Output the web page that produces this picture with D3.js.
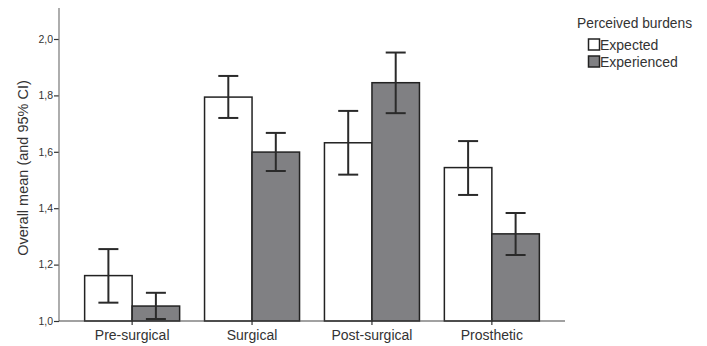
<!DOCTYPE html>
<html>
<head>
<meta charset="utf-8">
<script src="https://cdn.jsdelivr.net/npm/d3@7/dist/d3.min.js"></script>
<style>
  body { margin: 0; background: #fff; }
  svg { display: block; font-family: "Liberation Sans", Arial, sans-serif; }
</style>
</head>
<body>
<svg id="chart" width="707" height="346"></svg>
<script>
const categories = ["Pre-surgical", "Surgical", "Post-surgical", "Prosthetic"];
const seriesNames = ["Expected", "Experienced"];
const expectedMean = [1.161, 1.794, 1.632, 1.544];
const expectedLow  = [1.065, 1.720, 1.519, 1.447];
const expectedHigh = [1.255, 1.869, 1.745, 1.638];
const experiencedMean = [1.053, 1.599, 1.845, 1.309];
const experiencedLow  = [1.007, 1.532, 1.737, 1.234];
const experiencedHigh = [1.100, 1.667, 1.952, 1.383];
const yTicks = [1.0, 1.2, 1.4, 1.6, 1.8, 2.0];
const yTickLabels = ["1,0", "1,2", "1,4", "1,6", "1,8", "2,0"];

const fills = ["#ffffff", "#808083"];
const svg = d3.select("#chart");

const x0 = d3.scaleBand().domain(categories).range([59, 565]).paddingInner(0).paddingOuter(0.11);
const x1 = d3.scaleBand().domain(seriesNames).range([0, 95]);
const y = d3.scaleLinear().domain([1.0, 2.0]).range([321, 39]);

const data = [];
categories.forEach((c, i) => {
  data.push({cat: c, s: "Expected", m: expectedMean[i], lo: expectedLow[i], hi: expectedHigh[i]});
  data.push({cat: c, s: "Experienced", m: experiencedMean[i], lo: experiencedLow[i], hi: experiencedHigh[i]});
});

const barX = d => x0(d.cat) + (x0.bandwidth() - 95) / 2 + x1(d.s);

// bars
svg.append("g").selectAll("rect").data(data).join("rect")
  .attr("x", d => barX(d))
  .attr("y", d => y(d.m))
  .attr("width", x1.bandwidth())
  .attr("height", d => y(1.0) - y(d.m))
  .attr("fill", d => fills[seriesNames.indexOf(d.s)])
  .attr("stroke", "#222")
  .attr("stroke-width", 1.5);

// error bars
const eb = svg.append("g").attr("stroke", "#2a2a2a").attr("stroke-width", 2).attr("fill", "none");
data.forEach(d => {
  const cx = barX(d) + x1.bandwidth() / 2;
  eb.append("line").attr("x1", cx).attr("x2", cx).attr("y1", y(d.lo)).attr("y2", y(d.hi));
  eb.append("line").attr("x1", cx - 10).attr("x2", cx + 10).attr("y1", y(d.lo)).attr("y2", y(d.lo));
  eb.append("line").attr("x1", cx - 10).attr("x2", cx + 10).attr("y1", y(d.hi)).attr("y2", y(d.hi));
});

// y axis
const yAxis = d3.axisLeft(y).tickValues(yTicks).tickFormat((d, i) => yTickLabels[i]).tickSize(5).tickSizeOuter(0);
const gy = svg.append("g").attr("transform", "translate(59,0)").call(yAxis);
gy.select(".domain").remove();
gy.append("line").attr("x1", 0).attr("x2", 0).attr("y1", 8).attr("y2", 321).attr("stroke", "#777").attr("stroke-width", 1.2);
gy.selectAll(".tick line").attr("stroke", "#333").attr("stroke-width", 1.2);
gy.selectAll(".tick text").attr("fill", "#333").attr("font-size", 10.5).attr("x", -6).attr("font-family", "Liberation Sans, Arial, sans-serif");

// x axis
const xAxis = d3.axisBottom(x0).tickSize(4).tickSizeOuter(0);
const gx = svg.append("g").attr("transform", "translate(0,321)").call(xAxis);
gx.select(".domain").attr("stroke", "#444").attr("stroke-width", 1.2).attr("d", "M59,0H565");
gx.selectAll(".tick line").attr("stroke", "#333").attr("stroke-width", 1.2).attr("y1", -3).attr("y2", 4);
gx.selectAll(".tick text").attr("fill", "#333").attr("font-size", 14).attr("y", 9).attr("font-family", "Liberation Sans, Arial, sans-serif");

// y title
svg.append("text")
  .attr("transform", "translate(28,168) rotate(-90)")
  .attr("text-anchor", "middle")
  .attr("font-size", 14.5)
  .attr("fill", "#333")
  .text("Overall mean (and 95% CI)");

// legend
const lg = svg.append("g");
lg.append("text").attr("x", 577).attr("y", 28).attr("font-size", 13.8).attr("fill", "#333").text("Perceived burdens");
seriesNames.forEach((s, i) => {
  const yy = 39 + i * 17;
  lg.append("rect").attr("x", 588.5).attr("y", yy).attr("width", 11).attr("height", 11)
    .attr("fill", fills[i]).attr("stroke", "#222").attr("stroke-width", 1.5);
  lg.append("text").attr("x", 600).attr("y", yy + 11).attr("font-size", 14).attr("fill", "#333").text(s);
});
</script>
</body>
</html>
